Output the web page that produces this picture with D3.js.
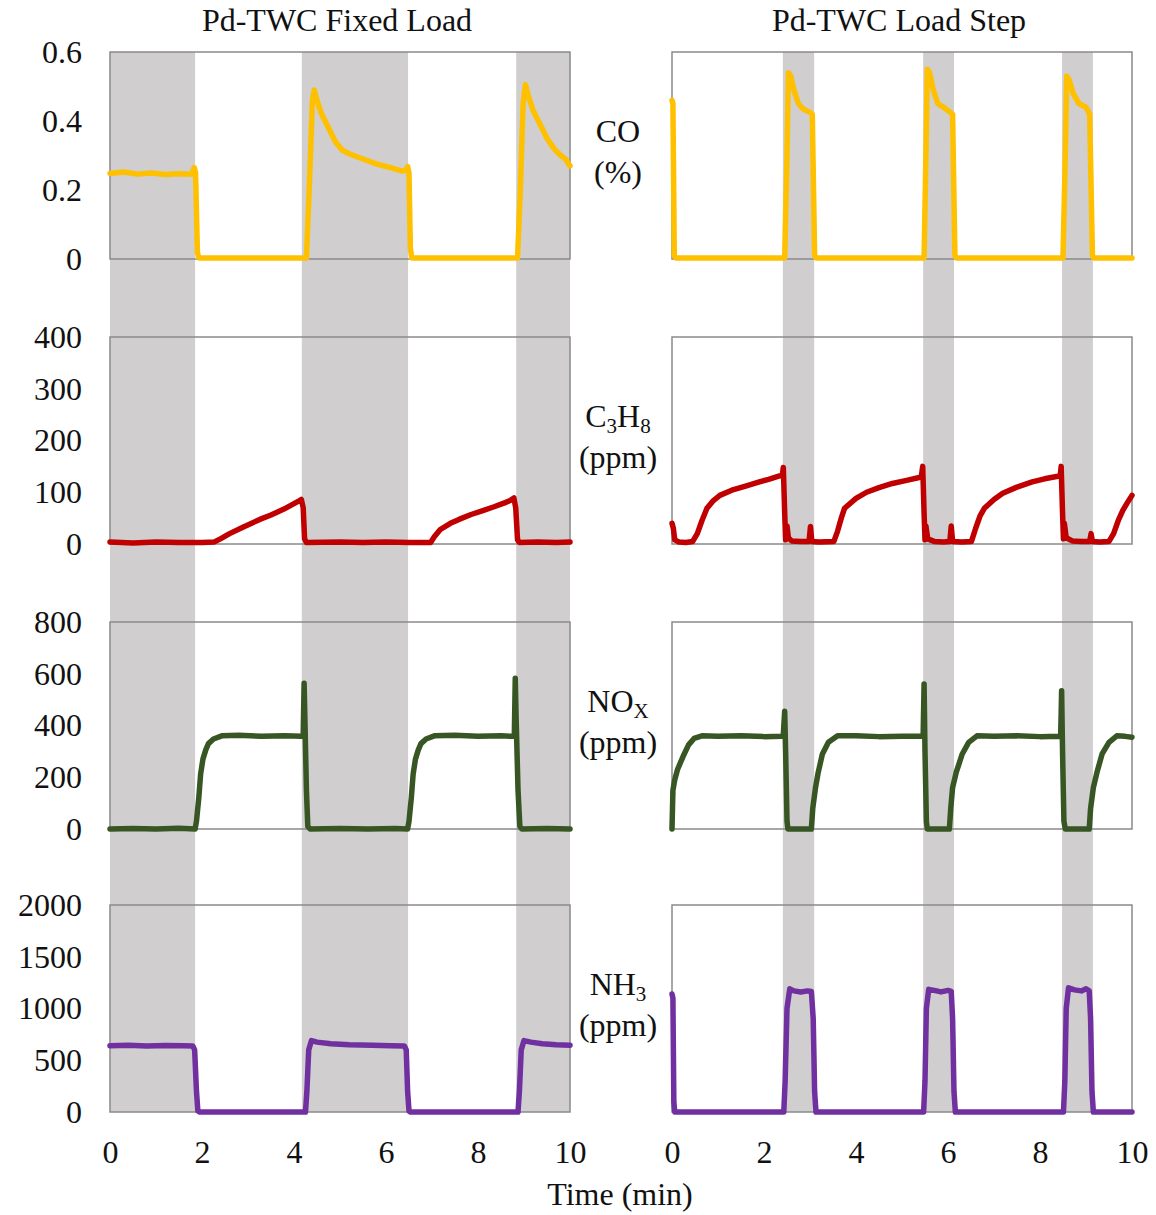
<!DOCTYPE html>
<html><head><meta charset="utf-8">
<script src="https://cdn.jsdelivr.net/npm/d3@7"></script>
<style>
html,body{margin:0;padding:0;background:#fff;}
text{font-family:"Liberation Serif","Times New Roman",serif;fill:#111;}
</style></head>
<body>
<svg id="chart" width="1156" height="1215"></svg>
<script>
// ---------- DATA ----------
const columnTitles = ["Pd-TWC Fixed Load", "Pd-TWC Load Step"];
const xTicks = [0, 2, 4, 6, 8, 10];
const xLabel = "Time (min)";

const bandsFixed = [[0, 1.85], [4.17, 6.48], [8.83, 10]];
const bandsStep = [[2.41, 3.09], [5.46, 6.13], [8.48, 9.15]];

const coTicks = [0, 0.2, 0.4, 0.6];
const c3h8Ticks = [0, 100, 200, 300, 400];
const noxTicks = [0, 200, 400, 600, 800];
const nh3Ticks = [0, 500, 1000, 1500, 2000];

const coFixed = [[0,0.248],[0.3,0.252],[0.6,0.246],[0.9,0.249],[1.2,0.245],[1.5,0.247],[1.78,0.246],[1.83,0.265],[1.86,0.25],[1.9,0.02],[1.93,0.003],[2.5,0.003],[3.5,0.003],[4.27,0.003],[4.33,0.2],[4.4,0.46],[4.44,0.49],[4.5,0.46],[4.6,0.42],[4.75,0.38],[4.9,0.34],[5.05,0.315],[5.2,0.305],[5.5,0.29],[5.8,0.275],[6.1,0.265],[6.35,0.255],[6.44,0.258],[6.47,0.268],[6.5,0.25],[6.53,0.03],[6.56,0.003],[7.5,0.003],[8.5,0.003],[8.86,0.003],[8.92,0.2],[8.98,0.45],[9.03,0.505],[9.1,0.47],[9.2,0.43],[9.35,0.39],[9.5,0.35],[9.65,0.32],[9.8,0.3],[9.9,0.29],[10,0.27]];
const coStep = [[0,0.46],[0.02,0.45],[0.05,0.01],[0.08,0.003],[1,0.003],[2,0.003],[2.45,0.003],[2.5,0.3],[2.53,0.54],[2.58,0.53],[2.65,0.49],[2.75,0.45],[2.85,0.435],[3.0,0.425],[3.05,0.42],[3.1,0.01],[3.13,0.003],[4,0.003],[5.48,0.003],[5.52,0.3],[5.55,0.55],[5.6,0.54],[5.68,0.49],[5.78,0.45],[5.9,0.44],[6.05,0.425],[6.1,0.42],[6.15,0.01],[6.18,0.003],[7.5,0.003],[8.5,0.003],[8.55,0.3],[8.58,0.53],[8.63,0.52],[8.72,0.48],[8.85,0.45],[9.0,0.44],[9.08,0.42],[9.14,0.01],[9.17,0.003],[10,0.003]];

const c3h8Fixed = [[0,4],[0.5,2],[1,4],[1.5,3],[2,3],[2.27,4],[2.4,10],[2.6,20],[2.9,33],[3.27,48],[3.5,56],[3.77,67],[4.0,78],[4.12,84],[4.16,86],[4.2,70],[4.23,10],[4.27,3],[5,4],[5.5,3],[6,4],[6.5,3],[6.97,3],[7.05,14],[7.18,28],[7.4,40],[7.6,48],[7.85,57],[8.09,64],[8.35,72],[8.59,80],[8.7,84],[8.78,89],[8.82,70],[8.86,8],[8.9,3],[9.3,4],[9.7,3],[10,4]];
const c3h8Step = [[0,40],[0.03,30],[0.06,8],[0.15,4],[0.3,3],[0.45,5],[0.55,20],[0.65,45],[0.76,69],[0.9,84],[1.04,94],[1.3,104],[1.6,112],[1.9,120],[2.1,125],[2.32,131],[2.4,133],[2.42,148],[2.45,60],[2.47,8],[2.5,35],[2.53,12],[2.6,6],[2.8,5],[2.98,5],[3.01,34],[3.04,5],[3.2,4],[3.52,5],[3.6,25],[3.68,50],[3.75,69],[4.0,88],[4.23,100],[4.5,109],[4.79,117],[5.1,123],[5.35,128],[5.42,130],[5.45,150],[5.48,60],[5.5,8],[5.52,35],[5.56,10],[5.7,5],[5.9,4],[6.04,5],[6.07,35],[6.1,5],[6.3,4],[6.51,5],[6.6,30],[6.7,55],[6.79,69],[7.0,86],[7.19,98],[7.5,110],[7.83,120],[8.1,126],[8.39,131],[8.44,132],[8.46,150],[8.49,60],[8.51,10],[8.53,40],[8.57,12],[8.7,6],[8.9,5],[9.08,5],[9.11,20],[9.14,5],[9.3,4],[9.5,5],[9.6,20],[9.7,45],[9.8,65],[9.9,80],[10,94]];

const noxFixed = [[0,0],[0.5,2],[1.0,0],[1.5,3],[1.85,0],[1.88,30],[1.93,120],[1.97,212],[2.02,270],[2.08,305],[2.14,330],[2.25,348],[2.43,360],[2.8,362],[3.3,358],[3.8,360],[4.17,358],[4.2,365],[4.22,563],[4.24,400],[4.27,150],[4.3,10],[4.35,0],[5,2],[5.6,0],[6.2,2],[6.47,0],[6.5,30],[6.55,120],[6.59,212],[6.64,270],[6.7,305],[6.76,330],[6.87,348],[7.05,360],[7.5,362],[8.0,358],[8.5,360],[8.76,358],[8.79,365],[8.81,583],[8.83,420],[8.87,150],[8.91,10],[8.95,0],[9.5,2],[10,0]];
const noxStep = [[0,0],[0.02,150],[0.06,190],[0.12,230],[0.24,280],[0.36,325],[0.48,350],[0.65,360],[1.0,358],[1.5,360],[2.0,357],[2.39,358],[2.42,365],[2.45,455],[2.47,300],[2.5,30],[2.52,0],[2.8,0],[3.03,0],[3.06,80],[3.12,160],[3.18,220],[3.27,290],[3.4,335],[3.6,360],[4,360],[4.5,357],[5,358],[5.43,358],[5.46,365],[5.48,560],[5.5,300],[5.53,30],[5.55,0],[5.8,0],[6.03,0],[6.06,80],[6.1,160],[6.18,220],[6.31,290],[6.45,335],[6.63,360],[7,358],[7.5,360],[8,357],[8.43,358],[8.45,365],[8.47,534],[8.49,300],[8.52,30],[8.55,0],[8.8,0],[9.07,0],[9.1,80],[9.16,160],[9.24,220],[9.35,290],[9.5,335],[9.67,360],[9.85,358],[10,355]];

const nh3Fixed = [[0,640],[0.4,645],[0.8,638],[1.2,642],[1.6,640],[1.8,638],[1.84,600],[1.88,200],[1.91,10],[1.95,0],[3,0],[4.25,0],[4.28,200],[4.32,600],[4.38,690],[4.5,675],[4.8,660],[5.2,650],[5.7,645],[6.1,640],[6.4,638],[6.44,600],[6.47,200],[6.5,10],[6.53,0],[7.5,0],[8.87,0],[8.9,200],[8.94,600],[9.0,690],[9.15,675],[9.4,660],[9.7,650],[10,645]];
const nh3Step = [[0,1140],[0.02,1100],[0.04,100],[0.06,0],[1,0],[2.43,0],[2.46,300],[2.5,1000],[2.56,1190],[2.65,1170],[2.8,1160],[2.95,1170],[3.03,1165],[3.07,900],[3.1,200],[3.13,0],[4,0],[5.47,0],[5.5,300],[5.53,1000],[5.58,1185],[5.7,1175],[5.85,1160],[6.0,1175],[6.07,1165],[6.1,900],[6.13,200],[6.16,0],[7.5,0],[8.51,0],[8.54,300],[8.57,1000],[8.62,1200],[8.75,1180],[8.9,1170],[9.0,1190],[9.07,1170],[9.1,900],[9.13,200],[9.16,0],[10,0]];

const species = [
  {name: "CO", unit: "(%)", sub: "", ticks: coTicks, fmt: d => d === 0 ? "0" : d3.format(".1f")(d), color: "#FFC000", fixed: coFixed, step: coStep},
  {name: "C3H8", unit: "(ppm)", sub: "c3h8", ticks: c3h8Ticks, fmt: d => String(d), color: "#C00000", fixed: c3h8Fixed, step: c3h8Step},
  {name: "NOX", unit: "(ppm)", sub: "nox", ticks: noxTicks, fmt: d => String(d), color: "#375623", fixed: noxFixed, step: noxStep},
  {name: "NH3", unit: "(ppm)", sub: "nh3", ticks: nh3Ticks, fmt: d => String(d), color: "#7030A0", fixed: nh3Fixed, step: nh3Step}
];

// ---------- LAYOUT ----------
const svg = d3.select("#chart");
const colX = [110, 672];
const plotW = 460;
const rowTop = [52, 337, 622, 905];
const plotH = 207;
const fontSize = 32;
const subSize = 21;
const frameColor = "#8a8a8a";
const bandColor = "#d0cece";
const fontFam = '"Liberation Serif","Times New Roman",serif';

const xScales = colX.map(x0 => d3.scaleLinear().domain([0, 10]).range([x0, x0 + plotW]));

// gray bands spanning all rows
const allBands = [bandsFixed, bandsStep];
allBands.forEach((bands, c) => {
  svg.append("g").selectAll("rect").data(bands).join("rect")
    .attr("x", d => xScales[c](d[0]))
    .attr("width", d => xScales[c](d[1]) - xScales[c](d[0]))
    .attr("y", rowTop[0])
    .attr("height", rowTop[3] + plotH - rowTop[0])
    .attr("fill", bandColor);
});

species.forEach((sp, r) => {
  const y = d3.scaleLinear().domain([sp.ticks[0], sp.ticks[sp.ticks.length - 1]]).range([rowTop[r] + plotH, rowTop[r]]);
  [sp.fixed, sp.step].forEach((series, c) => {
    const x = xScales[c];
    svg.append("rect")
      .attr("x", x.range()[0]).attr("y", rowTop[r])
      .attr("width", plotW).attr("height", plotH)
      .attr("fill", "none").attr("stroke", frameColor).attr("stroke-width", 1.5);
    if (c === 0) {
      const ax = svg.append("g").attr("transform", `translate(${x.range()[0]},0)`)
        .call(d3.axisLeft(y).tickValues(sp.ticks).tickFormat(sp.fmt).tickSize(0).tickPadding(28));
      ax.select(".domain").remove();
      ax.selectAll("text").style("font-family", fontFam).style("font-size", fontSize + "px").attr("fill", "#111");
    }
    if (r === species.length - 1) {
      const axb = svg.append("g").attr("transform", `translate(0,${rowTop[r] + plotH})`)
        .call(d3.axisBottom(x).tickValues(xTicks).tickFormat(d3.format("d")).tickSize(0).tickPadding(28));
      axb.select(".domain").remove();
      axb.selectAll("text").style("font-family", fontFam).style("font-size", fontSize + "px").attr("fill", "#111");
    }
    const line = d3.line().x(d => x(d[0])).y(d => y(d[1]));
    svg.append("path").datum(series)
      .attr("d", line)
      .attr("fill", "none")
      .attr("stroke", sp.color)
      .attr("stroke-width", 5.5)
      .attr("stroke-linejoin", "round")
      .attr("stroke-linecap", "round");
  });

  const lx = 618;
  const cy = rowTop[r] + 80;
  const t1 = svg.append("text").attr("x", lx).attr("y", cy + 10).attr("text-anchor", "middle").style("font-size", fontSize + "px");
  if (sp.sub === "c3h8") {
    t1.append("tspan").text("C");
    t1.append("tspan").text("3").attr("font-size", subSize + "px").attr("dy", 6);
    t1.append("tspan").text("H").attr("dy", -6);
    t1.append("tspan").text("8").attr("font-size", subSize + "px").attr("dy", 6);
  } else if (sp.sub === "nox") {
    t1.append("tspan").text("NO");
    t1.append("tspan").text("X").attr("font-size", subSize + "px").attr("dy", 6);
  } else if (sp.sub === "nh3") {
    t1.append("tspan").text("NH");
    t1.append("tspan").text("3").attr("font-size", subSize + "px").attr("dy", 6);
  } else {
    t1.text(sp.name);
  }
  svg.append("text").attr("x", lx).attr("y", cy + 51).attr("text-anchor", "middle").style("font-size", fontSize + "px").text(sp.unit);
});

columnTitles.forEach((t, c) => {
  svg.append("text").attr("x", xScales[c].range()[0] + plotW / 2 - 3).attr("y", 31)
    .attr("text-anchor", "middle").style("font-size", fontSize + "px").text(t);
});

svg.append("text").attr("x", 620).attr("y", 1205).attr("text-anchor", "middle").style("font-size", fontSize + "px").text(xLabel);
</script>
</body></html>
